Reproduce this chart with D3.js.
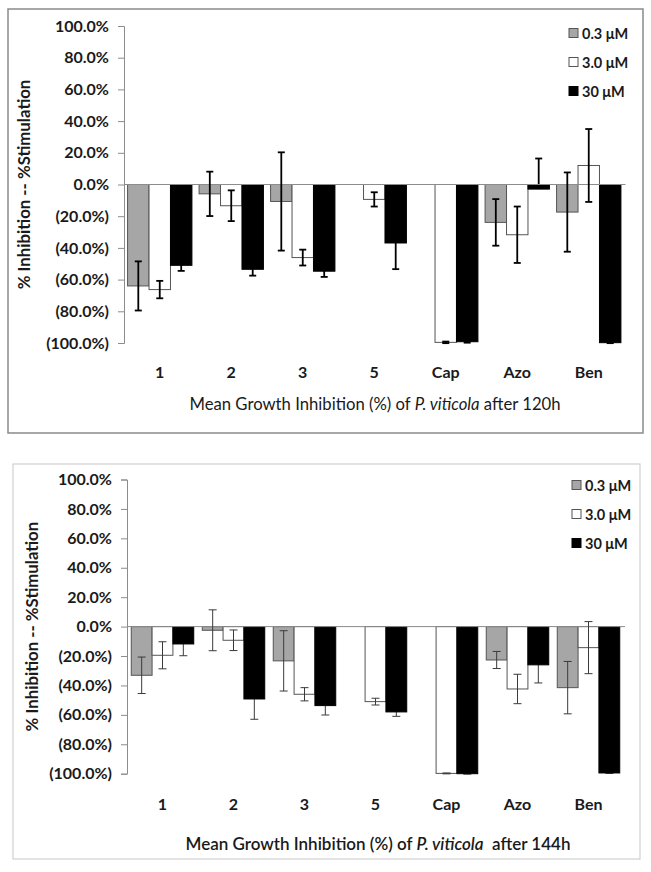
<!DOCTYPE html>
<html><head><meta charset="utf-8">
<script src="https://cdn.jsdelivr.net/npm/d3@7"></script>
<style>
html,body{margin:0;padding:0;background:#fff;}
svg{display:block;font-family:Lato,"Open Sans",sans-serif;}
</style></head>
<body><svg id="chart" width="651" height="872"></svg>
<script>
// ---- data ----
const categories = ["1","2","3","5","Cap","Azo","Ben"];
const seriesNames = ["0.3 \u03BCM","3.0 \u03BCM","30 \u03BCM"];
const yTicks = [100,80,60,40,20,0,-20,-40,-60,-80,-100];

// 120 h
const v120_low  = [-64.0, -5.9, -10.7,   0.0,   0.0, -23.9, -17.4];
const v120_mid  = [-66.3,-13.4, -46.1,  -9.4, -99.6, -31.7,  12.0];
const v120_high = [-51.0,-53.5, -54.7, -36.9, -99.2,  -2.9, -99.8];
// error bar lengths: upward / downward
const e120_low_up    = [15.5, 14.0, 31.0,  0.0, 0.0, 14.7, 25.0];
const e120_low_down  = [15.5, 14.0, 31.0,  0.0, 0.0, 14.7, 25.0];
const e120_mid_up    = [ 5.5,  9.7,  5.0,  4.5, 0.5, 17.8, 23.0];
const e120_mid_down  = [ 5.5,  9.7,  5.0,  4.5, 0.5, 17.8, 23.0];
const e120_high_up   = [ 3.5,  4.0,  3.6, 16.5, 0.6, 19.3,  0.3];
const e120_high_down = [ 3.5,  4.0,  3.6, 16.5, 0.6,  0.0,  0.3];

// 144 h
const v144_low  = [-33.1, -2.5, -23.3,   0.0,    0.0, -22.7, -41.5];
const v144_mid  = [-19.5, -9.3, -46.0, -51.0,  -99.8, -42.4, -14.3];
const v144_high = [-11.8,-49.2, -53.7, -58.0, -100.0, -26.0, -99.5];
const e144_low_up    = [12.4, 13.9, 20.5, 0.0, 0.0,  5.8, 17.8];
const e144_low_down  = [12.4, 13.9, 20.5, 0.0, 0.0,  5.8, 17.8];
const e144_mid_up    = [ 9.2,  7.0,  4.5, 2.3, 0.3, 10.0, 17.7];
const e144_mid_down  = [ 9.2,  7.0,  4.5, 2.3, 0.3, 10.0, 17.7];
const e144_high_up   = [ 8.0, 13.8,  6.4, 3.0, 0.3, 12.3,  0.3];
const e144_high_down = [ 8.0, 13.8,  6.4, 3.0, 0.3, 12.3,  0.3];

const svg = d3.select("#chart");
const fills = ["#a6a6a6","#ffffff","#000000"];
const strokes = ["#555","#555","#000"];

function fmt(v){
  if (v === 0) return "0.0%";
  return v < 0 ? "(" + Math.abs(v).toFixed(1) + "%)" : v.toFixed(1) + "%";
}

function panel(cfg){
  const g = svg.append("g");
  // frame
  g.append("rect").attr("x",cfg.frame[0]).attr("y",cfg.frame[1])
   .attr("width",cfg.frame[2]-cfg.frame[0]).attr("height",cfg.frame[3]-cfg.frame[1])
   .attr("fill","none").attr("stroke",cfg.frameColor).attr("stroke-width",cfg.frameWidth);

  const y = d3.scaleLinear().domain([-100,100]).range([cfg.yBottom, cfg.yTop]);
  const x0 = d3.scaleBand().domain(categories).range([cfg.xLeft, cfg.xRight])
               .paddingInner(cfg.padIn).paddingOuter(cfg.padOut);
  const x1 = d3.scaleBand().domain(d3.range(3)).range([0, x0.bandwidth()]);

  // y axis
  const yAxis = d3.axisLeft(y).tickValues(yTicks).tickFormat(fmt).tickSizeOuter(0).tickSize(6).tickPadding(9);
  const ax = g.append("g").attr("transform",`translate(${cfg.xLeft},0)`).call(yAxis);
  ax.select(".domain").attr("stroke","#8c8c8c");
  ax.selectAll(".tick line").attr("stroke","#8c8c8c");
  ax.selectAll(".tick text").attr("fill","#1a1a1a")
    .style("font-family","Lato,sans-serif").style("font-weight","bold").style("font-size","16px");

  const series = cfg.values;
  function errorBars(si, parent){
    const vals = series[si], up = cfg.errUp[si], down = cfg.errDown[si];
    const eg = parent.append("g").attr("stroke",cfg.errColor).attr("stroke-width",cfg.errWidth);
    vals.forEach((v,i)=>{
      if (v === 0 && up[i] === 0 && down[i] === 0) return;
      const cx = x0(categories[i]) + x1(si) + x1.bandwidth()/2;
      const yt = y(v+up[i]), yb = y(v-down[i]);
      eg.append("line").attr("x1",cx).attr("x2",cx).attr("y1",yt).attr("y2",yb);
      if (up[i] > 0) eg.append("line").attr("x1",cx-cfg.cap).attr("x2",cx+cfg.cap).attr("y1",yt).attr("y2",yt);
      if (down[i] > 0) eg.append("line").attr("x1",cx-cfg.cap).attr("x2",cx+cfg.cap).attr("y1",yb).attr("y2",yb);
    });
  }

  // error bars of the black series sit behind their bars
  errorBars(2, g);

  // bars
  series.forEach((vals, si) => {
    g.append("g").selectAll("rect").data(vals).join("rect")
      .attr("x",(d,i)=>x0(categories[i]) + x1(si))
      .attr("width",x1.bandwidth())
      .attr("y",d=>y(Math.max(0,d)))
      .attr("height",d=>Math.abs(y(d)-y(0)))
      .attr("fill",fills[si]).attr("stroke",d=>d===0?"none":strokes[si]).attr("stroke-width",1);
  });

  // zero line
  g.append("line").attr("x1",cfg.xLeft).attr("x2",cfg.xRight+1)
   .attr("y1",y(0)).attr("y2",y(0)).attr("stroke","#8c8c8c").attr("stroke-width",1);

  errorBars(0, g);
  errorBars(1, g);

  // category labels
  g.append("g").selectAll("text").data(categories).join("text")
    .attr("x",d=>x0(d)+x0.bandwidth()/2).attr("y",cfg.catY)
    .attr("text-anchor","middle").attr("dominant-baseline","central")
    .style("font-weight","bold").style("font-size","16px").attr("fill","#1a1a1a")
    .text(d=>d);

  // y title
  g.append("text").attr("transform",`translate(${cfg.yTitleX},${(cfg.yTop+cfg.yBottom)/2}) rotate(-90)`)
    .attr("text-anchor","middle").attr("dominant-baseline","central")
    .style("font-weight","bold").style("font-size","16.8px").attr("fill","#1a1a1a")
    .text("% Inhibition -- %Stimulation");

  // x title
  const t = g.append("text").attr("x",cfg.titleX).attr("y",cfg.titleY)
    .attr("text-anchor","middle").attr("dominant-baseline","central")
    .style("font-size",cfg.titleSize).style("font-weight",cfg.titleWeight).attr("fill","#1a1a1a")
    .attr("xml:space","preserve").style("white-space","pre");
  t.append("tspan").text("Mean Growth Inhibition (%) of ");
  t.append("tspan").style("font-style","italic").text("P. viticola");
  t.append("tspan").text(cfg.titleTail);

  // legend
  seriesNames.forEach((name, si) => {
    const ly = cfg.legY[si];
    g.append("rect").attr("x",cfg.legX).attr("y",ly-4.5).attr("width",9).attr("height",9)
      .attr("fill",fills[si]).attr("stroke",si===2?"#000":"#555").attr("stroke-width",1);
    g.append("text").attr("x",cfg.legX+13).attr("y",ly).attr("dominant-baseline","central")
      .style("font-weight","bold").style("font-size","14.5px").attr("fill","#1a1a1a").text(name);
  });
}

panel({
  frame:[8,9,643,433], frameColor:"#8a8a8a", frameWidth:1.5,
  yTop:26, yBottom:343, xLeft:124, xRight:624.5, padIn:0.1, padOut:0.05,
  values:[v120_low, v120_mid, v120_high],
  errUp:[e120_low_up, e120_mid_up, e120_high_up],
  errDown:[e120_low_down, e120_mid_down, e120_high_down],
  errColor:"#000", errWidth:1.8, cap:3.5,
  catY:371, yTitleX:23, titleX:375, titleY:404, titleWeight:"normal", titleSize:"16.7px", titleTail:" after 120h",
  legX:569, legY:[33,62,91]
});

panel({
  frame:[13,464,640,859], frameColor:"#d0d0d0", frameWidth:1.2,
  yTop:479.5, yBottom:773.7, xLeft:127, xRight:624, padIn:0.12, padOut:0.06,
  values:[v144_low, v144_mid, v144_high],
  errUp:[e144_low_up, e144_mid_up, e144_high_up],
  errDown:[e144_low_down, e144_mid_down, e144_high_down],
  errColor:"#3a3a3a", errWidth:1, cap:4,
  catY:803, yTitleX:31, titleX:378, titleY:843, titleWeight:"600", titleSize:"17px", titleTail:"  after 144h",
  legX:572, legY:[485,514,543]
});
</script></body></html>
